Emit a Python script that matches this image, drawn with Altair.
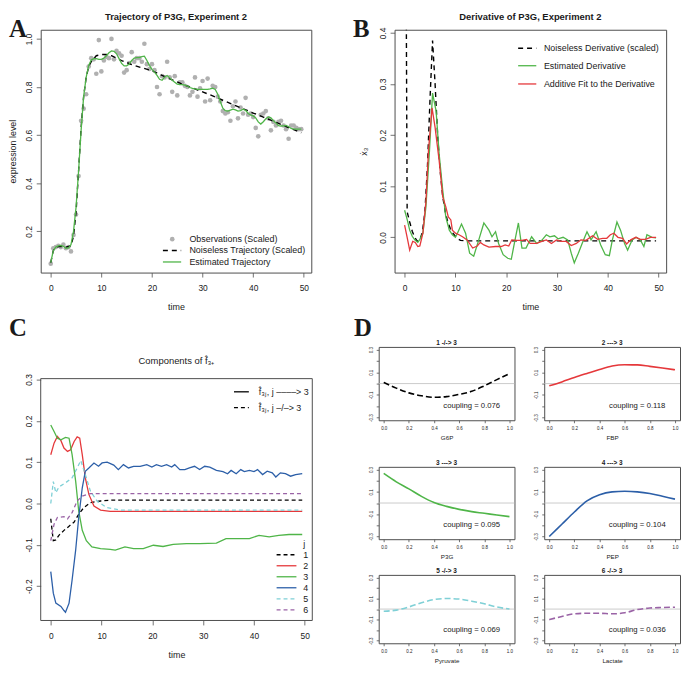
import altair as alt
import pandas as pd

FONT = "Liberation Sans"
SERIF = "Liberation Serif"
BOX = "#4d4d4d"
INK = "#1a1a1a"
GRAY = "#b0b0b0"
RED = "#e5383b"
GREEN = "#4fb548"
BLUE = "#2c5fa8"
CYAN = "#7fd0d6"
PURPLE = "#9a63a6"
LETTER = 25

# ---------------- Panel A data ----------------
obs_time = [0, 0.5, 1, 1.5, 2, 2.5, 3, 3.5, 4, 4.5, 5, 5.5, 6, 6.5, 7, 7.5, 8, 8.5, 9, 9.5,
            10, 10.5, 11, 11.5, 12, 12.5, 13, 13.5, 14, 14.5, 15, 15.5, 16, 16.5, 17, 17.5, 18, 18.5, 19, 19.5,
            20, 20.5, 21, 21.5, 22, 22.5, 23, 23.5, 24, 24.5, 25, 25.5, 26, 26.5, 27, 27.5, 28, 28.5, 29, 29.5,
            30, 30.5, 31, 31.5, 32, 32.5, 33, 33.5, 34, 34.5, 35, 35.5, 36, 36.5, 37, 37.5, 38, 38.5, 39, 39.5,
            40, 40.5, 41, 41.5, 42, 42.5, 43, 43.5, 44, 44.5, 45, 45.5, 46, 46.5, 47, 47.5, 48, 48.5, 49, 49.5]
obs_value = [0.066, 0.13, 0.135, 0.14, 0.135, 0.145, 0.13, 0.135, 0.117, 0.185,
             0.27, 0.43, 0.66, 0.71, 0.77, 0.885, 0.92, 0.915, 0.855, 0.995,
             0.865, 0.91, 0.925, 0.92, 1.0, 0.915, 0.95, 0.94, 0.93, 0.86,
             0.87, 0.9, 0.945, 0.905, 0.92, 0.92, 0.905, 0.98, 0.895, 0.875,
             0.895, 0.87, 0.8, 0.77, 0.845, 0.84, 0.905, 0.84, 0.78, 0.845,
             0.765, 0.82, 0.82, 0.805, 0.8, 0.765, 0.78, 0.84, 0.76, 0.795,
             0.825, 0.74, 0.835, 0.745, 0.805, 0.8, 0.76, 0.74, 0.7, 0.69,
             0.695, 0.66, 0.72, 0.74, 0.67, 0.715, 0.69, 0.755, 0.685, 0.69,
             0.675, 0.63, 0.595, 0.685, 0.69, 0.7, 0.67, 0.62, 0.655, 0.64,
             0.655, 0.66, 0.64, 0.625, 0.585, 0.64, 0.64, 0.63, 0.625, 0.625]
noiseless_time = [0, 0.5, 1, 2, 3, 4, 4.5, 5, 5.5, 6, 6.5, 7, 7.5, 8, 9, 10, 11, 12, 13, 14, 15, 16,
                  18, 20, 22, 24, 26, 28, 30, 32, 34, 36, 38, 40, 42, 44, 46, 48, 49.5]
noiseless_value = [0.07, 0.12, 0.135, 0.138, 0.135, 0.14, 0.18, 0.28, 0.45, 0.63, 0.76, 0.84, 0.885, 0.905,
                   0.93, 0.935, 0.935, 0.93, 0.92, 0.91, 0.902, 0.893, 0.88, 0.868, 0.848, 0.83, 0.812,
                   0.796, 0.78, 0.763, 0.745, 0.727, 0.71, 0.692, 0.675, 0.658, 0.64, 0.623, 0.61]
estimated_value = [0.07, 0.12, 0.135, 0.14, 0.142, 0.138, 0.13, 0.132, 0.145, 0.2,
                   0.3, 0.45, 0.62, 0.76, 0.84, 0.89, 0.912, 0.918, 0.918, 0.915,
                   0.915, 0.92, 0.93, 0.942, 0.95, 0.948, 0.938, 0.918, 0.898, 0.888,
                   0.888, 0.896, 0.91, 0.92, 0.922, 0.922, 0.926, 0.928, 0.91, 0.89,
                   0.873, 0.862, 0.848, 0.832, 0.828, 0.842, 0.848, 0.838, 0.828, 0.82,
                   0.812, 0.81, 0.81, 0.808, 0.804, 0.798, 0.794, 0.792, 0.79, 0.79,
                   0.79, 0.79, 0.79, 0.792, 0.795, 0.79, 0.77, 0.74, 0.712, 0.702,
                   0.7, 0.704, 0.708, 0.705, 0.7, 0.702, 0.708, 0.703, 0.69, 0.684,
                   0.68, 0.672, 0.655, 0.646, 0.656, 0.668, 0.676, 0.672, 0.66, 0.65,
                   0.64, 0.638, 0.639, 0.64, 0.635, 0.628, 0.625, 0.625, 0.625, 0.625]

# ---------------- Panel B data ----------------
true_deriv_time = [0, 0.5, 1, 1.5, 2, 2.5, 3, 3.5, 4, 4.5, 5, 5.5, 6, 6.5, 7, 7.5, 8, 8.5, 9, 9.5,
                   10, 10.5, 11, 12, 20, 30, 40, 49.5]
true_deriv_value = [1.2, 0.05, 0.03, 0.012, 0.0, -0.008, -0.005, 0.01, 0.05, 0.14, 0.27, 0.385, 0.3,
                    0.2, 0.13, 0.08, 0.05, 0.03, 0.017, 0.008, 0.002, -0.003, -0.006, -0.007, -0.007,
                    -0.007, -0.007, -0.007]
est_deriv_time = [0, 0.5, 1, 1.5, 2, 2.6, 3, 3.6, 4.2, 4.9, 5.5, 6.2, 6.8, 7.5, 8.1, 8.8, 9.4, 10, 10.4,
                  11.2, 12, 12.8, 13.6, 14.6, 15.6, 16.6, 17.2, 17.9, 18.5, 19.4, 20.3, 21, 21.6, 22.4,
                  23.1, 23.9, 25, 26, 27, 27.9, 28.6, 29.5, 30.2, 31.2, 32.1, 32.8, 33.4, 34.2, 35.1,
                  35.9, 36.7, 37.7, 38.6, 39.5, 40.3, 40.9, 41.8, 42.5, 43.3, 43.9, 44.8, 45.6, 46.4,
                  47.1, 47.7, 48.7, 49.5]
est_deriv_value = [0.053, 0.035, 0.014, 0.002, -0.005, -0.01, -0.004, 0.008, 0.06, 0.17, 0.282, 0.247,
                   0.163, 0.092, 0.04, 0.014, 0.005, 0.0, 0.008, 0.026, 0.008, -0.031, -0.037, -0.005,
                   0.028, 0.014, 0.001, 0.011, -0.012, -0.034, -0.041, -0.043, -0.012, 0.028, -0.021,
                   -0.021, 0.001, -0.012, -0.006, 0.005, 0.001, 0.003, -0.003, 0.0, -0.005, -0.031,
                   -0.05, -0.031, -0.008, 0.011, -0.005, 0.011, -0.015, -0.034, -0.036, -0.005, 0.03,
                   0.014, -0.012, -0.025, -0.005, 0.0, -0.005, -0.018, 0.005, 0.0, -0.001]
fit_deriv_time = [0, 0.5, 1, 1.6, 2.1, 2.6, 3, 3.6, 4.2, 4.7, 5.4, 6, 6.8, 7.5, 8.1, 8.6, 9.1, 9.4, 10,
                  10.7, 11.4, 12.3, 13.4, 14.3, 14.9, 15.6, 16.6, 17.9, 19, 19.8, 20.5, 21.1, 22.1, 23.1,
                  24, 24.7, 26, 27, 27.9, 28.9, 29.9, 30.8, 31.8, 32.8, 33.8, 34.7, 35.7, 37, 38, 39,
                  39.8, 40.5, 41.2, 42, 42.9, 43.7, 44.5, 45.5, 46.4, 47.4, 48.4, 49.5]
fit_deriv_value = [0.024, 0.0, -0.025, -0.008, -0.01, -0.018, -0.017, 0.008, 0.07, 0.17, 0.253, 0.215,
                   0.15, 0.079, 0.06, 0.04, 0.034, 0.014, 0.008, 0.005, 0.001, -0.005, -0.021, -0.017,
                   -0.01, -0.015, -0.019, -0.018, -0.018, -0.015, -0.017, -0.005, -0.006, -0.006,
                   -0.004, -0.012, -0.012, -0.008, -0.005, -0.012, -0.005, -0.008, -0.008, -0.016,
                   -0.012, -0.005, -0.006, 0.003, -0.004, -0.002, -0.002, 0.005, 0.008, 0.0, -0.002,
                   -0.013, -0.005, 0.0, -0.004, -0.004, 0.0, 0.0]

# ---------------- Panel C data (components j = 1..6) ----------------
comp1_time = [0, 0.5, 1, 1.6, 2.6, 3.6, 4.6, 5.5, 6.5, 7.8, 9.8, 12, 20, 30, 40, 49.5]
comp1_value = [-0.037, -0.09, -0.088, -0.077, -0.065, -0.055, -0.045, -0.026, -0.01, 0.002, 0.006,
               0.008, 0.008, 0.008, 0.008, 0.008]
comp2_time = [0, 0.65, 1.3, 2, 2.6, 3.3, 3.9, 4.6, 5.2, 5.7, 6.2, 6.8, 7.5, 8.5, 9.8, 11.7, 20, 30, 40, 49.5]
comp2_value = [0.118, 0.146, 0.162, 0.152, 0.134, 0.126, 0.13, 0.15, 0.161, 0.158, 0.118, 0.062, 0.022,
               -0.006, -0.016, -0.019, -0.019, -0.019, -0.019, -0.019]
comp3_time = [0, 0.65, 1.3, 2, 2.9, 3.6, 4.2, 4.9, 5.5, 6.2, 7, 8.1, 9.8, 11.7, 12.7, 14.6, 16.3, 18.2,
              20.2, 22.1, 24.1, 26.7, 29.3, 32.6, 34.5, 37.1, 39.1, 41, 43, 44.9, 46.9, 48.8, 49.5]
comp3_value = [0.19, 0.174, 0.158, 0.154, 0.16, 0.158, 0.118, 0.054, -0.018, -0.065, -0.09, -0.105,
               -0.109, -0.111, -0.113, -0.105, -0.109, -0.109, -0.101, -0.104, -0.099, -0.097, -0.097,
               -0.096, -0.085, -0.085, -0.085, -0.077, -0.081, -0.077, -0.075, -0.075, -0.075]
comp4_time = [0, 0.5, 1, 2, 2.6, 2.9, 3.6, 4.2, 4.9, 5.5, 6.2, 6.8, 7.5, 8.5, 9.4, 10.1, 11.1, 12.4,
              13.3, 14.3, 15.3, 16.3, 17.6, 18.9, 19.9, 20.8, 21.8, 22.8, 23.8, 24.4, 25.4, 26.4, 27.3,
              28.3, 29.3, 30.3, 31.3, 32.6, 33.9, 34.8, 35.5, 36.5, 37.4, 38.1, 39.1, 40, 40.7, 41.7,
              42.6, 43.6, 44.3, 45.2, 46.2, 47.2, 48.2, 49.5]
comp4_value = [-0.165, -0.217, -0.241, -0.249, -0.259, -0.263, -0.241, -0.185, -0.113, -0.034, 0.038,
               0.078, 0.086, 0.098, 0.09, 0.098, 0.1, 0.093, 0.082, 0.094, 0.086, 0.09, 0.09, 0.094,
               0.088, 0.094, 0.09, 0.094, 0.088, 0.094, 0.082, 0.082, 0.086, 0.09, 0.082, 0.09, 0.088,
               0.08, 0.077, 0.072, 0.08, 0.072, 0.082, 0.077, 0.08, 0.077, 0.082, 0.07, 0.078, 0.074,
               0.064, 0.074, 0.072, 0.066, 0.07, 0.072]
comp5_time = [0, 0.5, 1, 1.6, 2.9, 4.2, 5.2, 5.9, 6.8, 7.8, 9.1, 11, 13.7, 20, 30, 40, 49.5]
comp5_value = [0.0, 0.053, 0.026, 0.04, 0.05, 0.062, 0.086, 0.104, 0.07, 0.03, 0.006, -0.01, -0.016,
               -0.016, -0.016, -0.016, -0.016]
comp6_time = [0, 0.65, 1.3, 2.6, 3.3, 4.2, 5.2, 6.2, 7.8, 10, 20, 30, 40, 49.5]
comp6_value = [-0.09, -0.05, -0.034, -0.032, -0.037, -0.022, 0.006, 0.018, 0.024, 0.024, 0.024, 0.024,
               0.024, 0.024]

# ---------------- Panel D data ----------------
d_grid = [0, 0.1, 0.2, 0.3, 0.4, 0.5, 0.6, 0.7, 0.8, 0.9, 1.0]
d1_value = [0.01, -0.04, -0.082, -0.108, -0.121, -0.115, -0.095, -0.068, -0.02, 0.035, 0.088]
d2_value = [-0.02, 0.015, 0.054, 0.09, 0.125, 0.155, 0.166, 0.165, 0.152, 0.138, 0.122]
d3_value = [0.265, 0.19, 0.127, 0.06, 0.005, -0.03, -0.057, -0.077, -0.092, -0.108, -0.122]
d4_value = [-0.3, -0.19, -0.08, 0.02, 0.075, 0.1, 0.105, 0.1, 0.085, 0.06, 0.035]
d5_value = [-0.02, -0.01, 0.02, 0.06, 0.09, 0.1, 0.095, 0.075, 0.05, 0.02, 0.0]
d6_value = [-0.1, -0.07, -0.045, -0.04, -0.04, -0.045, -0.035, -0.005, 0.01, 0.015, 0.018]
d_titles = ["1 -/-> 3", "2 ---> 3", "3 ---> 3", "4 ---> 3", "5 -/-> 3", "6 -/-> 3"]
d_xlabels = ["G6P", "FBP", "P3G", "PEP", "Pyruvate", "Lactate"]
coupling = [0.076, 0.118, 0.095, 0.104, 0.069, 0.036]

ONE = pd.DataFrame({"k": [0]})


def df(t, v):
    return pd.DataFrame({"t": t, "v": v})


def txt(s, x, y, size, align="left", weight="normal", font=FONT, baseline="alphabetic"):
    return alt.Chart(ONE).mark_text(text=s, align=align, baseline=baseline, fontSize=size,
                                    font=font, fontWeight=weight, color=INK).encode(
        x=alt.value(x), y=alt.value(y))


def seg(x1, x2, y, color, dash=None, width=1.3):
    kw = dict(color=color, strokeWidth=width)
    if dash:
        kw["strokeDash"] = dash
    return alt.Chart(ONE).mark_rule(**kw).encode(x=alt.value(x1), x2=alt.value(x2), y=alt.value(y))


NEG = "(datum.value < 0 ? '-' : '') + format(abs(datum.value), '{f}')"


def xaxis(values, f, title, lsize=8.5, tsize=9, tick=4.5, lpad=7, tpad=10):
    return alt.Axis(values=values, labelExpr=NEG.format(f=f), title=title, domain=False, grid=False,
                    tickSize=tick, tickColor=BOX, tickWidth=0.8, labelFont=FONT, labelFontSize=lsize,
                    labelColor=INK, labelPadding=lpad, labelFlush=False, labelOverlap=False,
                    labelBaseline="top",
                    titleFont=FONT, titleFontSize=tsize, titleFontWeight="normal", titleColor=INK,
                    titlePadding=tpad)


def yaxis(values, f, title, lsize=8.5, tsize=9, tick=4.5, lpad=3, tpad=6.5, expr=None):
    return alt.Axis(values=values, labelExpr=expr or NEG.format(f=f), title=title, domain=False,
                    grid=False, tickSize=tick, tickColor=BOX, tickWidth=0.8, labelFont=FONT,
                    labelFontSize=lsize, labelColor=INK, labelPadding=lpad, labelFlush=False,
                    labelOverlap=False, labelAngle=270, labelAlign="center", labelBaseline="bottom",
                    titleFont=FONT, titleFontSize=tsize, titleFontWeight="normal", titleColor=INK,
                    titlePadding=tpad)


def sc(lo, hi):
    return alt.Scale(domain=[lo, hi], nice=False, zero=False)


TIME_TICKS = [0, 10, 20, 30, 40, 50]
T_LO, T_HI = -1.98, 51.48

# ---------------- Panel A ----------------
xA = alt.X("t:Q", scale=sc(T_LO, T_HI), axis=xaxis(TIME_TICKS, ".0f", "time"))
yA = alt.Y("v:Q", scale=sc(0.029, 1.038), axis=yaxis([0.2, 0.4, 0.6, 0.8, 1.0], ".1f", "expression level"))
panelA = alt.layer(
    alt.Chart(df(obs_time, obs_value)).mark_circle(size=22, color=GRAY, opacity=1).encode(x=xA, y=yA),
    alt.Chart(df(noiseless_time, noiseless_value)).mark_line(color="black", strokeDash=[5, 4], strokeWidth=1.4).encode(x=xA, y=yA),
    alt.Chart(df(obs_time, estimated_value)).mark_line(color=GREEN, strokeWidth=1.3).encode(x=xA, y=yA),
    alt.Chart(ONE).mark_circle(size=22, color=GRAY, opacity=1).encode(x=alt.value(132.7), y=alt.value(211.3)),
    seg(123.3, 141.7, 222.7, "black", [5, 4], 1.4),
    seg(123.3, 141.7, 234.3, GREEN),
    txt("Observations (Scaled)", 150, 211.3, 9, baseline="middle"),
    txt("Noiseless Trajectory (Scaled)", 150, 222.7, 9, baseline="middle"),
    txt("Estimated Trajectory", 150, 234.3, 9, baseline="middle"),
    txt("Trajectory of P3G, Experiment 2", 136.5, -10, 9.5, align="center", weight="bold"),
    txt("A", -32, 7, LETTER, weight="bold", font=SERIF),
).properties(width=273, height=245)

# ---------------- Panel B ----------------
xB = alt.X("t:Q", scale=sc(T_LO, T_HI), axis=xaxis(TIME_TICKS, ".0f", "time"))
yB = alt.Y("v:Q", scale=sc(-0.069, 0.406), axis=yaxis([0.0, 0.1, 0.2, 0.3, 0.4], ".1f", "ẋ₃", tpad=9.5))
panelB = alt.layer(
    alt.Chart(df(true_deriv_time, true_deriv_value)).mark_line(color="black", strokeDash=[5, 4], strokeWidth=1.4, clip=True).encode(x=xB, y=yB),
    alt.Chart(df(est_deriv_time, est_deriv_value)).mark_line(color=GREEN, strokeWidth=1.3).encode(x=xB, y=yB),
    alt.Chart(df(fit_deriv_time, fit_deriv_value)).mark_line(color=RED, strokeWidth=1.3).encode(x=xB, y=yB),
    seg(124.7, 143, 18.7, "black", [5, 4], 1.4),
    seg(124.7, 143, 36.3, GREEN),
    seg(124.7, 143, 54.7, RED),
    txt("Noiseless Derivative (scaled)", 150.7, 18.7, 9, baseline="middle"),
    txt("Estimated Derivative", 150.7, 36.3, 9, baseline="middle"),
    txt("Additive Fit to the Derivative", 150.7, 54.7, 9, baseline="middle"),
    txt("Derivative of P3G, Experiment 2", 137, -10, 9.5, align="center", weight="bold"),
    txt("B", -42, 7, LETTER, weight="bold", font=SERIF),
).properties(width=274, height=245)

# ---------------- Panel C ----------------
# plot area starts level with the first D row; the framed data region is drawn below it
C_LIFT = 32
C_LO, C_HI = -0.283, 0.302
C_PX = 417.0  # pixels per unit
xC = alt.X("t:Q", scale=sc(T_LO, T_HI), axis=xaxis(TIME_TICKS, ".0f", "time"))
yC = alt.Y("v:Q", scale=sc(C_LO, C_HI + C_LIFT / C_PX),
           axis=yaxis([-0.2, -0.1, 0.0, 0.1, 0.2, 0.3], ".1f", None))
comps = [(comp1_time, comp1_value, "black", True), (comp2_time, comp2_value, RED, False),
         (comp3_time, comp3_value, GREEN, False), (comp4_time, comp4_value, BLUE, False),
         (comp5_time, comp5_value, CYAN, True), (comp6_time, comp6_value, PURPLE, True)]
frameC = alt.Chart(pd.DataFrame({"t": [T_LO], "t2": [T_HI], "v": [C_LO], "v2": [C_HI]})).mark_rect(
    fillOpacity=0, stroke=BOX, strokeWidth=1).encode(x=xC, x2="t2:Q", y=yC, y2="v2:Q")
c_layers = [frameC]
for t, v, col, dash in comps:
    kw = dict(color=col, strokeWidth=1.3)
    if dash:
        kw["strokeDash"] = [4, 3]
    c_layers.append(alt.Chart(df(t, v)).mark_line(**kw).encode(x=xC, y=yC))
L = C_LIFT
c_legend = [seg(195, 210, L + 13.3, "black", None, 1.3), seg(195, 210, L + 29.3, "black", [4, 3], 1.3),
            txt("f̂₃ⱼ, j ––––> 3", 220, L + 13.3, 9, baseline="middle"),
            txt("f̂₃ⱼ, j –/–> 3", 220, L + 29.3, 9, baseline="middle"),
            txt("j", 265, L + 166.7, 9, baseline="middle")]
for k, (t, v, col, dash) in enumerate(comps):
    yy = L + 177.7 + k * 11.1
    c_legend.append(seg(238, 258, yy, col, [4, 3] if dash else None, 1.3))
    c_legend.append(txt(str(k + 1), 265, yy, 9, baseline="middle"))
panelC = alt.layer(
    *c_layers, *c_legend,
    txt("Components of f̂₃₊", 137, L - 15, 9.5, align="center"),
    txt("C", -32, L - 43, LETTER, weight="bold", font=SERIF),
).properties(width=274, height=244 + C_LIFT, view=alt.ViewBackground(stroke="transparent"))

# ---------------- Panel D ----------------
D_EXPR = ("(abs(round(datum.value*10)) % 2 == 1) ? (datum.value < 0 ? '-' : '') + "
          "format(abs(datum.value), '.1f') : ''")
d_series = [(d1_value, "black", True), (d2_value, RED, False), (d3_value, GREEN, False),
            (d4_value, BLUE, False), (d5_value, CYAN, True), (d6_value, PURPLE, True)]
DW = 137
D_HEIGHTS = [74, 74, 73, 73, 69, 69]
d_panels = []
for i, (vals, col, dash) in enumerate(d_series):
    xD = alt.X("t:Q", scale=sc(-0.04, 1.04),
               axis=xaxis([0, 0.2, 0.4, 0.6, 0.8, 1.0], ".1f", d_xlabels[i], lsize=4.5, tsize=6.3,
                          tick=2.5, lpad=2.5, tpad=4.5))
    yD = alt.Y("v:Q", scale=sc(-0.324, 0.324),
               axis=yaxis([-0.3, -0.2, -0.1, 0.0, 0.1, 0.2, 0.3], ".1f", None, lsize=4.5, tick=2.5,
                          lpad=3, expr=D_EXPR))
    kw = dict(color=col, strokeWidth=1.6, interpolate="monotone")
    if dash:
        kw["strokeDash"] = [6, 3]
    layers = [
        alt.Chart(pd.DataFrame({"v": [0.0]})).mark_rule(color="#bdbdbd", strokeWidth=0.8).encode(y=yD),
        alt.Chart(df(d_grid, vals)).mark_line(**kw).encode(x=xD, y=yD),
        alt.Chart(pd.DataFrame({"t": [0.7], "v": [-0.2], "s": [f"coupling = {coupling[i]:.3f}"]}))
        .mark_text(font=FONT, fontSize=7.8, color=INK, align="center", baseline="middle")
        .encode(x=xD, y=yD, text="s:N"),
        txt(d_titles[i], DW / 2, -1.5, 6.5, align="center", weight="bold"),
    ]
    if i == 0:
        layers.append(txt("D", -25, -11, LETTER, weight="bold", font=SERIF))
    d_panels.append(alt.layer(*layers).properties(width=DW, height=D_HEIGHTS[i]))

d_rows_12 = alt.concat(*d_panels[:4], columns=2, spacing={"row": 47, "column": 30}, bounds="flush")
d_row_3 = alt.hconcat(*d_panels[4:], spacing=30, bounds="flush")
gridD = alt.vconcat(d_rows_12, d_row_3, spacing=230, bounds="flush")

top_row = alt.hconcat(panelA, panelB, spacing=84, bounds="flush")
bottom_row = alt.hconcat(panelC, gridD, spacing=67, bounds="flush")
chart = alt.vconcat(top_row, bottom_row, spacing=320, bounds="flush").properties(
    padding=0, autosize=alt.AutoSizeParams(type="pad")
).configure_view(stroke=BOX, strokeWidth=1)

chart.save("out.html", embed_options={"renderer": "svg", "actions": False})
